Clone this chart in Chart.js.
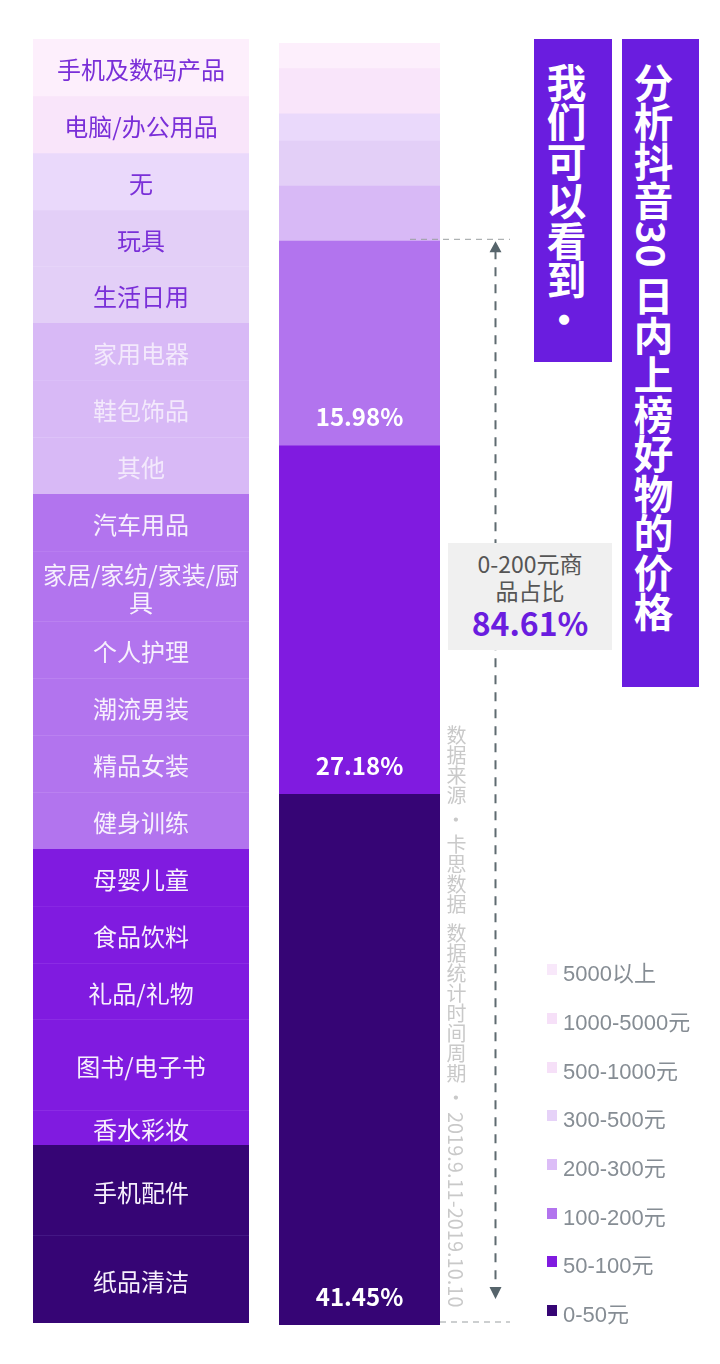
<!DOCTYPE html>
<html lang="zh">
<head>
<meta charset="utf-8">
<title>抖音好物价格</title>
<script src="https://cdn.jsdelivr.net/npm/chart.js@4"></script>
<style>
  html, body { margin: 0; padding: 0; background: #fff; }
  body { position: relative; width: 720px; height: 1364px; overflow: hidden; font-family: "Noto Sans CJK SC", sans-serif; }
  canvas { position: absolute; }
  #leftChart { left: 33px; top: 39px; }
  #rightChart { left: 279px; top: 43px; }
  .title { position: absolute; background: #6a1ddf; color: #fff; font-weight: 700; font-size: 39.5px; line-height: 64px; writing-mode: vertical-rl; box-sizing: border-box; white-space: pre; padding-right: 14px; }
  #title1 { left: 534px; top: 39px; width: 78px; height: 323px; padding-top: 24px; }
  #title2 { left: 622px; top: 39px; width: 77px; height: 648px; padding-top: 24px; }
  #shareBox { position: absolute; left: 448px; top: 543px; width: 164px; height: 107px; background: #f0f0f0; text-align: center; color: #555; font-size: 23px; line-height: 27px; padding-top: 7px; box-sizing: border-box; }
  #shareBox b { display: block; color: #6a1ddf; font-size: 32px; line-height: 36px; font-weight: 700; }
  #source { position: absolute; left: 444px; top: 725px; color: #c9c9c9; font-size: 20px; line-height: 24px; writing-mode: vertical-rl; white-space: pre; }
  #legend { position: absolute; left: 547px; top: 947px; }
  .legend-row { height: 48.7px; display: flex; align-items: center; color: #868d94; font-family: "Liberation Sans", "Noto Sans CJK SC", sans-serif; font-size: 22px; white-space: nowrap; }
  .legend-row i { width: 10px; height: 11px; margin-right: 6px; margin-top: -3px; }
</style>
</head>
<body>
<canvas id="leftChart" width="216" height="1284"></canvas>
<canvas id="rightChart" width="281" height="1282"></canvas>
<div class="title" id="title1"></div>
<div class="title" id="title2"></div>
<div id="shareBox"></div>
<div id="source"></div>
<div id="legend"></div>
<script>
// 价格区间（从高到低）
const priceBands = ["5000以上", "1000-5000元", "500-1000元", "300-500元", "200-300元", "100-200元", "50-100元", "0-50元"];
const priceShares = [1.95, 3.53, 2.11, 3.51, 4.29, 15.98, 27.18, 41.45];

// 左侧品类（从上到下）
const categories = [
  "手机及数码产品", "电脑/办公用品", "无", "玩具", "生活日用", "家用电器", "鞋包饰品", "其他",
  "汽车用品", "家居/家纺/家装/厨|具", "个人护理", "潮流男装", "精品女装", "健身训练",
  "母婴儿童", "食品饮料", "礼品/礼物", "图书/电子书", "香水彩妆", "手机配件", "纸品清洁"
];
const categoryValues = [57, 57, 57, 56, 57, 57, 57, 57, 57, 70, 57, 57, 57, 57, 57, 57, 56, 91, 35, 90, 88];
const categoryBand = [0, 1, 2, 3, 3, 4, 4, 4, 5, 5, 5, 5, 5, 5, 6, 6, 6, 6, 6, 7, 7];

const bandColors = ["#fdeffc", "#f9e5fa", "#ead9fb", "#e3cff7", "#d8b9f6", "#b274ee", "#801be0", "#360575"];
const bandLines = ["#fdeffc", "#f9e5fa", "#ead9fb", "#e8d8f9", "#dfc6f8", "#bd86f0", "#8f33e6", "#4f2792"];
const bandText = ["#7a2fd8", "#7a2fd8", "#7a2fd8", "#7a2fd8", "#f3e9fc", "#f7f0fd", "#f7f0fd", "#f7f0fd"];
const legendColors = ["#f8e8fa", "#f6e0f8", "#f6e0f8", "#e6d2f8", "#dcbdf7", "#b274ee", "#801be0", "#360575"];

const FONT = '"Noto Sans CJK SC", sans-serif';

// 左侧品类标签
const categoryLabelPlugin = {
  id: "categoryLabels",
  afterDatasetsDraw(chart) {
    const ctx = chart.ctx;
    ctx.save();
    ctx.font = "24px " + FONT;
    ctx.textAlign = "center";
    ctx.textBaseline = "middle";
    categories.forEach((name, i) => {
      const bar = chart.getDatasetMeta(i).data[0];
      const mid = chart.scales.y.getPixelForValue(sumTo(categoryValues, i) + categoryValues[i] / 2);
      const lines = name.split("|");
      ctx.fillStyle = bandText[categoryBand[i]];
      lines.forEach((line, k) => {
        ctx.fillText(line, bar.x, mid + 2.5 + (k - (lines.length - 1) / 2) * 28);
      });
    });
    ctx.restore();
  },
};

// 右侧百分比和 0-200 元的虚线箭头
const shareLabelPlugin = {
  id: "shareLabels",
  afterDatasetsDraw(chart) {
    const ctx = chart.ctx;
    const y = chart.scales.y;
    const area = chart.chartArea;
    ctx.save();
    ctx.font = "700 24px " + FONT;
    ctx.textAlign = "center";
    ctx.textBaseline = "middle";
    ctx.fillStyle = "#fff";
    priceShares.forEach((v, i) => {
      if (v < 10) return;
      const bottom = y.getPixelForValue(sumTo(priceShares, i) + v);
      ctx.fillText(v.toFixed(2) + "%", (area.left + area.right) / 2, bottom - 28);
    });

    const top200 = y.getPixelForValue(sumTo(priceShares, 5));
    const bottom200 = y.getPixelForValue(100) - 3;
    ctx.strokeStyle = "#9a9fa1";
    ctx.lineWidth = 1;
    ctx.setLineDash([6, 5]);
    ctx.beginPath();
    ctx.moveTo(area.right - 30, top200 - 1);
    ctx.lineTo(area.right + 70, top200 - 1);
    ctx.moveTo(area.right, bottom200);
    ctx.lineTo(area.right + 70, bottom200);
    ctx.stroke();

    const ax = area.right + 55.5;
    ctx.strokeStyle = "#5f6b70";
    ctx.fillStyle = "#56646b";
    ctx.lineWidth = 2;
    ctx.setLineDash([9, 8]);
    ctx.beginPath();
    ctx.moveTo(ax, top200 + 10);
    ctx.lineTo(ax, bottom200 - 32);
    ctx.stroke();
    ctx.setLineDash([]);
    ctx.beginPath();
    ctx.moveTo(ax, top200 + 1);
    ctx.lineTo(ax - 6, top200 + 12);
    ctx.lineTo(ax + 6, top200 + 12);
    ctx.closePath();
    ctx.moveTo(ax, bottom200 - 23);
    ctx.lineTo(ax - 6, bottom200 - 35);
    ctx.lineTo(ax + 6, bottom200 - 35);
    ctx.closePath();
    ctx.fill();
    ctx.restore();
  },
};

function sumTo(arr, n) {
  return arr.slice(0, n).reduce((a, b) => a + b, 0);
}

function stackOptions(max, paddingRight) {
  return {
    responsive: false,
    animation: false,
    devicePixelRatio: 1,
    layout: { padding: { left: 0, top: 0, bottom: 0, right: paddingRight } },
    plugins: { legend: { display: false }, tooltip: { enabled: false } },
    scales: {
      x: { stacked: true, display: false },
      y: { stacked: true, display: false, reverse: true, min: 0, max: max },
    },
  };
}

// 品类堆叠柱
new Chart(document.getElementById("leftChart").getContext("2d"), {
  type: "bar",
  data: {
    labels: ["品类"],
    datasets: categories.map((name, i) => ({
      label: name,
      data: [categoryValues[i]],
      backgroundColor: bandColors[categoryBand[i]],
      borderColor: bandLines[categoryBand[i]],
      borderWidth: { top: i > 0 && categoryBand[i] === categoryBand[i - 1] ? 1 : 0, left: 0, right: 0, bottom: 0 },
      borderSkipped: false,
      barPercentage: 1,
      categoryPercentage: 1,
    })),
  },
  options: stackOptions(sumTo(categoryValues, categoryValues.length), 0),
  plugins: [categoryLabelPlugin],
});

// 价格区间堆叠柱
new Chart(document.getElementById("rightChart").getContext("2d"), {
  type: "bar",
  data: {
    labels: ["价格"],
    datasets: priceBands.map((name, i) => ({
      label: name,
      data: [priceShares[i]],
      backgroundColor: bandColors[i],
      barPercentage: 1,
      categoryPercentage: 1,
    })),
  },
  options: stackOptions(100, 120),
  plugins: [shareLabelPlugin],
});

// 文字部分
document.getElementById("title1").textContent = "我们可以看到·";
document.getElementById("title2").textContent = "分析抖音30 日内上榜好物的价格";
document.getElementById("source").textContent = "数据来源 · 卡思数据  数据统计时间周期 · 2019.9.11-2019.10.10";
document.getElementById("shareBox").innerHTML = "0-200元商<br>品占比<b>" +
  sumTo(priceShares.slice(5), 3).toFixed(2) + "%</b>";

const legendBox = document.getElementById("legend");
priceBands.forEach((name, i) => {
  const row = document.createElement("div");
  row.className = "legend-row";
  const swatch = document.createElement("i");
  swatch.style.background = legendColors[i];
  row.appendChild(swatch);
  row.appendChild(document.createTextNode(name));
  legendBox.appendChild(row);
});
</script>
</body>
</html>
